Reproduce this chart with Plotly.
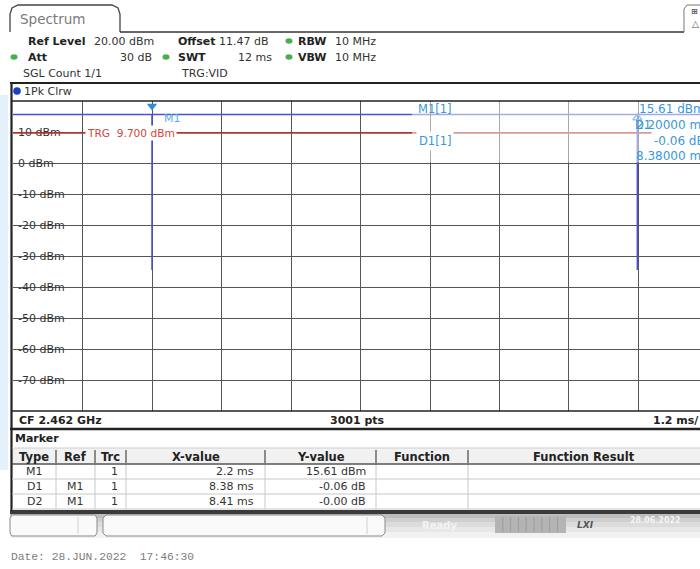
import plotly.graph_objects as go

W, H = 700, 569

# ---------------- data ----------------
sweep_ms = [-0.2, 2.2, 2.2, 2.2, 10.58, 10.58, 10.58, 11.8]
level_dbm = [15.61, 15.61, -34.5, 15.61, 15.61, -34.5, 15.61, 15.61]
trg_level = 9.7
grid_x = [-0.2 + 1.2 * k for k in range(11)]
y_ticks = [10, 0, -10, -20, -30, -40, -50, -60, -70]
y_tick_text = ["10 dBm", "0 dBm", "-10 dBm", "-20 dBm", "-30 dBm", "-40 dBm",
               "-50 dBm", "-60 dBm", "-70 dBm"]
m1_x, m1_y = 2.2, 15.61
d1_x = 10.58

tbl_header = ["Type", "Ref", "Trc", "X-value", "Y-value", "Function", "Function Result"]
marker_type = ["M1", "D1", "D2"]
marker_ref = ["", "M1", "M1"]
marker_trc = ["1", "1", "1"]
marker_xval = ["2.2 ms", "8.38 ms", "8.41 ms"]
marker_yval = ["15.61 dBm", "-0.06 dB", "-0.00 dB"]
marker_func = ["", "", ""]
marker_res = ["", "", ""]

# ---------------- helpers ----------------
def PX(x):
    return x / W

def PY(y):
    return 1 - y / H

FONT = "DejaVu Sans"
BLUE_TXT = "#3a98d6"
annots = []
shapes = []

def ann(text, x, y, anchor="left", size=11, color="#222", bold=False,
        family=FONT, bg=None, pad=1):
    if bold:
        text = "<b>" + text + "</b>"
    d = dict(text=text, x=PX(x), y=PY(y), xref="paper", yref="paper",
             xanchor=anchor, yanchor="middle", showarrow=False,
             font=dict(size=size, color=color, family=family), borderpad=pad)
    if bg:
        d["bgcolor"] = bg
    annots.append(d)

def hline(x0, x1, y, color="#222", width=1.5):
    shapes.append(dict(type="line", xref="paper", yref="paper",
                       x0=PX(x0), x1=PX(x1), y0=PY(y), y1=PY(y),
                       line=dict(color=color, width=width)))

def vline(x, y0, y1, color="#222", width=1.5):
    shapes.append(dict(type="line", xref="paper", yref="paper",
                       x0=PX(x), x1=PX(x), y0=PY(y0), y1=PY(y1),
                       line=dict(color=color, width=width)))

def rect(x0, y0, x1, y1, fill, line=None, lw=0, layer="above"):
    shapes.append(dict(type="rect", xref="paper", yref="paper",
                       x0=PX(x0), x1=PX(x1), y0=PY(y1), y1=PY(y0),
                       fillcolor=fill, layer=layer,
                       line=dict(color=line or fill, width=lw)))

def path(pts, color="#444", width=1.2, fill=None):
    s = "M " + " L ".join(f"{PX(a):.5f},{PY(b):.5f}" for a, b in pts)
    d = dict(type="path", xref="paper", yref="paper", path=s,
             line=dict(color=color, width=width))
    if fill:
        d["fillcolor"] = fill
        d["path"] += " Z"
    shapes.append(d)

def dot(x, y, color, rx=3.5, ry=2.8):
    shapes.append(dict(type="circle", xref="paper", yref="paper",
                       x0=PX(x - rx), x1=PX(x + rx), y0=PY(y + ry), y1=PY(y - ry),
                       fillcolor=color, line=dict(color=color, width=0)))

# DejaVu Sans advance widths (em) for label backgrounds
CW = {"-": 0.361, " ": 0.318, "d": 0.635, "B": 0.686, "m": 0.974}
def text_w(s, size=11):
    return sum(CW.get(c, 0.636) for c in s) * size

# ---------------- figure ----------------
fig = go.Figure()

fig.add_trace(go.Scatter(x=[grid_x[0], 11.8], y=[trg_level, trg_level], mode="lines",
                         line=dict(color="#c0302a", width=1.5), hoverinfo="skip",
                         showlegend=False))
fig.add_trace(go.Scatter(x=sweep_ms, y=level_dbm, mode="lines",
                         line=dict(color="#4652d2", width=1.5), hoverinfo="skip",
                         showlegend=False))
fig.add_trace(go.Scatter(x=[m1_x], y=[18.4], mode="markers",
                         marker=dict(symbol="triangle-down", size=9, color="#2b8fd6"),
                         hoverinfo="skip", showlegend=False))
fig.add_trace(go.Scatter(x=[d1_x], y=[14.6], mode="markers",
                         marker=dict(symbol="triangle-up-open", size=8, color="#2b8fd6",
                                     line=dict(width=1.3)),
                         hoverinfo="skip", showlegend=False))

# label backgrounds hiding gridlines
for v, t in zip(y_ticks, y_tick_text):
    shapes.append(dict(type="rect", xref="paper", yref="y", layer="between",
                       x0=PX(13.5), x1=PX(18 + text_w(t) + 1), y0=v - 1.6, y1=v + 1.6,
                       fillcolor="white", line=dict(width=0)))
# marker info box
rect(412, 101.5, 701, 163, "white", layer="between")
rect(412, 101.5, 701, 162.5, "rgba(255,255,255,0.5)", layer="above")

# left faint watermark
rect(0, 95, 8, 470, "rgba(205,228,246,0.55)", layer="below")

# ----- header -----
path([(10, 32), (10, 14), (12, 8), (18, 5), (112, 5), (118, 8), (120, 14), (120, 32)],
     color="#444", width=1.3)
hline(120, 684, 32, color="#333", width=1.4)
path([(684, 32), (684, 9), (687, 5), (700, 5)], color="#777", width=1)
ann("Spectrum", 18, 19, size=13.5, color="#7a7a7a")
ann("<b>⊞</b>", 689, 12, size=8, color="#555")
ann("△", 690, 24, size=9, color="#555")

ann("Ref Level", 26, 41, bold=True)
ann("20.00 dBm", 92, 41, color="#333")
ann("Offset", 176, 41, bold=True)
ann("11.47 dB", 217, 41, color="#333")
dot(289, 41, "#45b04a")
ann("RBW", 296, 41, bold=True)
ann("10 MHz", 333, 41, color="#333")
dot(14, 57, "#45b04a")
ann("Att", 26, 57, bold=True)
ann("30 dB", 154, 57, anchor="right", color="#333")
dot(166, 57, "#45b04a")
ann("SWT", 176, 57, bold=True)
ann("12 ms", 274, 57, anchor="right", color="#333")
dot(289, 57, "#45b04a")
ann("VBW", 296, 57, bold=True)
ann("10 MHz", 333, 57, color="#333")
ann("SGL Count 1/1", 21, 74, color="#333")
ann("TRG:VID", 179, 74, color="#333")

# ----- diagram panel frame -----
hline(10, 700, 83, color="#222", width=2.2)
vline(11.5, 83, 430, color="#222", width=2.2)
hline(12, 700, 101, color="#222", width=1.6)
hline(12, 700, 411, color="#222", width=1.6)
hline(10, 700, 429, color="#222", width=2.6)
dot(17, 91, "#1b3fc4", rx=3.8, ry=3.8)
ann("1Pk Clrw", 22, 91, color="#333")

ann("CF 2.462 GHz", 17, 420, bold=True)
ann("3001 pts", 357, 420, anchor="center", bold=True)
ann("1.2 ms/", 701, 420, anchor="right", bold=True)

# trace annotations
ann("TRG  9.700 dBm", 85, 133, color="#d2453d", bg="white", pad=1, size=10.6)
ann("M1", 162, 118, color="#5aaee2")
ann("M1[1]", 416, 109, color=BLUE_TXT, size=11.5)
ann("15.61 dBm", 707, 109, anchor="right", color=BLUE_TXT, size=12)
ann("2.20000 ms", 709, 125, anchor="right", color=BLUE_TXT, size=12)
ann("D1", 633, 125, color=BLUE_TXT, size=11.5)
ann("D1[1]", 416, 141, color=BLUE_TXT, size=11.5, bg="white", pad=2)
ann("-0.06 dB", 708, 141, anchor="right", color=BLUE_TXT, size=12, bg="white", pad=2)
ann("8.38000 ms", 709, 156, anchor="right", color=BLUE_TXT, size=12)

# ----- marker table section -----
vline(11.5, 429, 511, color="#222", width=2.2)
ann("Marker", 13, 438, bold=True)

col_w = [44, 39, 31, 139, 111, 92, 232]
col_align = ["center", "center", "right", "right", "right", "center", "center"]
col_pad = [0, 0, 6, 9, 8, 0, 0]
hdr_top, hdr_bot = 448, 464
row_h = 15
columns = [marker_type, marker_ref, marker_trc, marker_xval, marker_yval,
           marker_func, marker_res]
n_rows = len(marker_type)
tbl_bot = hdr_bot + n_rows * row_h

rect(12, hdr_top, 700, hdr_bot, "#f1f1f1", layer="below")
hline(12, 700, hdr_top, color="#cfcfcf", width=1)
edges = [12]
for w in col_w:
    edges.append(edges[-1] + w)
for i, h in enumerate(tbl_header):
    x0, x1 = edges[i], edges[i + 1]
    ann(h, (x0 + x1) / 2, (hdr_top + hdr_bot) / 2 + 0.5, anchor="center", bold=True,
        size=11.5)
    if i > 0:
        vline(x0, hdr_top + 2, hdr_bot - 1, color="#555", width=1.3)
        vline(x0, hdr_bot, tbl_bot, color="#c8c8c8", width=1)
hline(12, 700, hdr_bot, color="#555", width=1.6)
for r in range(n_rows):
    yc = hdr_bot + r * row_h + row_h / 2
    hline(12, 700, hdr_bot + (r + 1) * row_h, color="#c8c8c8", width=1)
    for i, col in enumerate(columns):
        x0, x1 = edges[i], edges[i + 1]
        if col_align[i] == "center":
            ann(col[r], (x0 + x1) / 2, yc, anchor="center", color="#333")
        else:
            ann(col[r], x1 - col_pad[i], yc, anchor="right", color="#333")

# ----- status bar -----
strips = [(510, 514, "#3a3a3a"), (514, 518, "#bdbdbd"), (518, 522, "#cfcfcf"),
          (522, 527, "#dcdcdc"), (527, 532, "#e7e7e7"), (532, 538, "#f1f1f1")]
for y0, y1, c in strips:
    rect(10, y0, 700, y1, c, layer="below")
path([(12, 515), (95, 515), (97, 518), (97, 533), (95, 536), (12, 536), (10, 533),
      (10, 518), (12, 515)], color="#8a8a8a", width=1, fill="#fafafa")
vline(78, 517, 534, color="#d0d0d0", width=1)
path([(106, 515), (382, 515), (385, 518), (385, 533), (382, 536), (106, 536),
      (103, 533), (103, 518), (106, 515)], color="#8a8a8a", width=1, fill="#fafafa")
vline(367, 517, 534, color="#d0d0d0", width=1)
ann("Ready", 420, 525, color="#f4f4f4", bold=True, size=10)
rect(495, 516, 566, 533, "#b4b4b4", layer="above")
for k in range(1, 9):
    vline(495 + k * 7.8, 517, 532, color="#9c9c9c", width=1)
ann("<b><i>LXI</i></b>", 585, 525, anchor="center", color="#555", size=9)
ann("28.06.2022", 655, 520, anchor="center", color="#f4f4f4", bold=True, size=8)

# date
ann("Date: 28.JUN.2022  17:46:30", 9, 557, color="#7d7d7d", family="Liberation Mono",
    size=11.3)

fig.update_layout(
    width=W, height=H, margin=dict(l=0, r=0, t=0, b=0),
    paper_bgcolor="white", plot_bgcolor="white",
    showlegend=False, shapes=shapes, annotations=annots,
    xaxis=dict(domain=[PX(13), 1], range=[-0.2, 11.662], tickvals=grid_x,
               showticklabels=False, showgrid=True, gridcolor="#555555", gridwidth=1.2,
               zeroline=False, showline=False, ticks="", fixedrange=True),
    yaxis=dict(domain=[PY(411), PY(101)], range=[-80, 20], tickvals=y_ticks,
               ticktext=y_tick_text, ticklabelposition="inside", ticks="",
               ticklabelstandoff=2, layer="below traces",
               tickfont=dict(family=FONT, size=11, color="#333"),
               showgrid=True, gridcolor="#555555", gridwidth=1.2,
               zeroline=False, showline=False, fixedrange=True),
)

fig.write_html("out.html", config={"displayModeBar": False},
               post_script="document.body.style.margin='0';document.body.style.overflow='hidden';")
